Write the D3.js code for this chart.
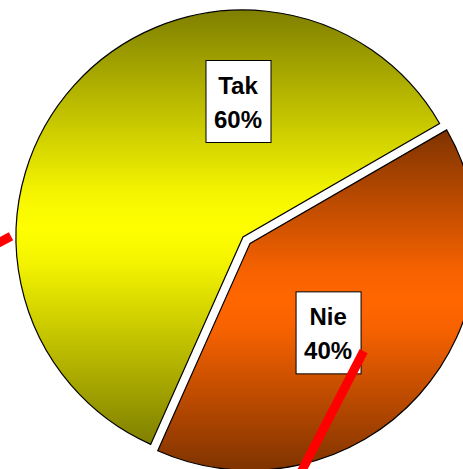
<!DOCTYPE html>
<html><head><meta charset="utf-8">
<script src="https://cdn.jsdelivr.net/npm/d3@7"></script>
<style>html,body{margin:0;padding:0;background:#fff;overflow:hidden}</style>
</head><body>
<svg id="chart" width="463" height="469"></svg>
<script>
// ---- data ----
const categories = ["Tak", "Nie"];
const values = [60, 40];
const percentLabels = ["60%", "40%"];
const brightColors = ["#FFFF00", "#FF6600"];
const nearColors = ["#F4F400", "#F86200"];
const darkColors = ["#7F7F00", "#7F3300"];

// ---- layout ----
const W = 463, H = 469;
const cx = 243, cy = 237, R = 227;
const startDeg = -156;
const explode = [0, 9.5];
const labelPos = [ {dx: -5, dy: -136}, {dx: 78, dy: 89} ]; // relative to slice center
const boxW = 65, boxH = 82;
const fontSize = 24;

const svg = d3.select("#chart");
const defs = svg.append("defs");

categories.forEach((c, i) => {
  const g = defs.append("linearGradient").attr("id", "grad" + i)
    .attr("x1", 0).attr("y1", 0).attr("x2", 0).attr("y2", 1);
  g.append("stop").attr("offset", 0).attr("stop-color", darkColors[i]);
  g.append("stop").attr("offset", 0.42).attr("stop-color", nearColors[i]);
  g.append("stop").attr("offset", 0.5).attr("stop-color", brightColors[i]);
  g.append("stop").attr("offset", 0.58).attr("stop-color", nearColors[i]);
  g.append("stop").attr("offset", 1).attr("stop-color", darkColors[i]);
});

const pie = d3.pie().sort(null)
  .startAngle(startDeg * Math.PI / 180)
  .endAngle(startDeg * Math.PI / 180 + 2 * Math.PI);
const arcs = pie(values);
const arc = d3.arc().innerRadius(0).outerRadius(R);

function offsetOf(d, i) {
  const mid = (d.startAngle + d.endAngle) / 2;
  return [cx + explode[i] * Math.sin(mid), cy - explode[i] * Math.cos(mid)];
}

const slices = svg.append("g").selectAll("g").data(arcs).join("g")
  .attr("transform", (d, i) => { const o = offsetOf(d, i); return `translate(${o[0]},${o[1]})`; });

slices.append("path")
  .attr("d", arc)
  .attr("fill", (d, i) => `url(#grad${i})`)
  .attr("stroke", "#000")
  .attr("stroke-width", 1.2)
  .attr("stroke-linejoin", "miter");

const labels = slices.append("g")
  .attr("transform", (d, i) => `translate(${labelPos[i].dx},${labelPos[i].dy})`);
labels.append("rect")
  .attr("x", -boxW / 2 + 0.5).attr("y", -boxH / 2 + 0.5)
  .attr("width", boxW).attr("height", boxH)
  .attr("fill", "#fff").attr("stroke", "#000").attr("stroke-width", 1);
labels.append("text")
  .attr("text-anchor", "middle")
  .attr("font-family", "Liberation Sans, Arial, sans-serif")
  .attr("font-weight", "bold")
  .attr("font-size", fontSize)
  .attr("fill", "#000")
  .each(function(d, i) {
    const t = d3.select(this);
    t.append("tspan").attr("x", 0).attr("y", -7).text(categories[i]);
    t.append("tspan").attr("x", 0).attr("y", 27).text(percentLabels[i]);
  });

// ---- red decorative lines (polar: angle deg, radius fraction, relative to slice center) ----
const redLines = [
  { slice: 0, from: [270.2, 1.022], to: [267.5, 1.12] },
  { slice: 1, from: [133.5, 0.69], to: [169.5, 1.08] }
];
function polar(i, a, f) {
  const o = offsetOf(arcs[i], i);
  const rad = a * Math.PI / 180;
  return [o[0] + R * f * Math.sin(rad), o[1] - R * f * Math.cos(rad)];
}
svg.append("g").selectAll("line").data(redLines).join("line")
  .attr("x1", d => polar(d.slice, ...d.from)[0])
  .attr("y1", d => polar(d.slice, ...d.from)[1])
  .attr("x2", d => polar(d.slice, ...d.to)[0])
  .attr("y2", d => polar(d.slice, ...d.to)[1])
  .attr("stroke", "#FF0000")
  .attr("stroke-width", 9)
  .attr("stroke-linecap", "butt");
</script>
</body></html>
